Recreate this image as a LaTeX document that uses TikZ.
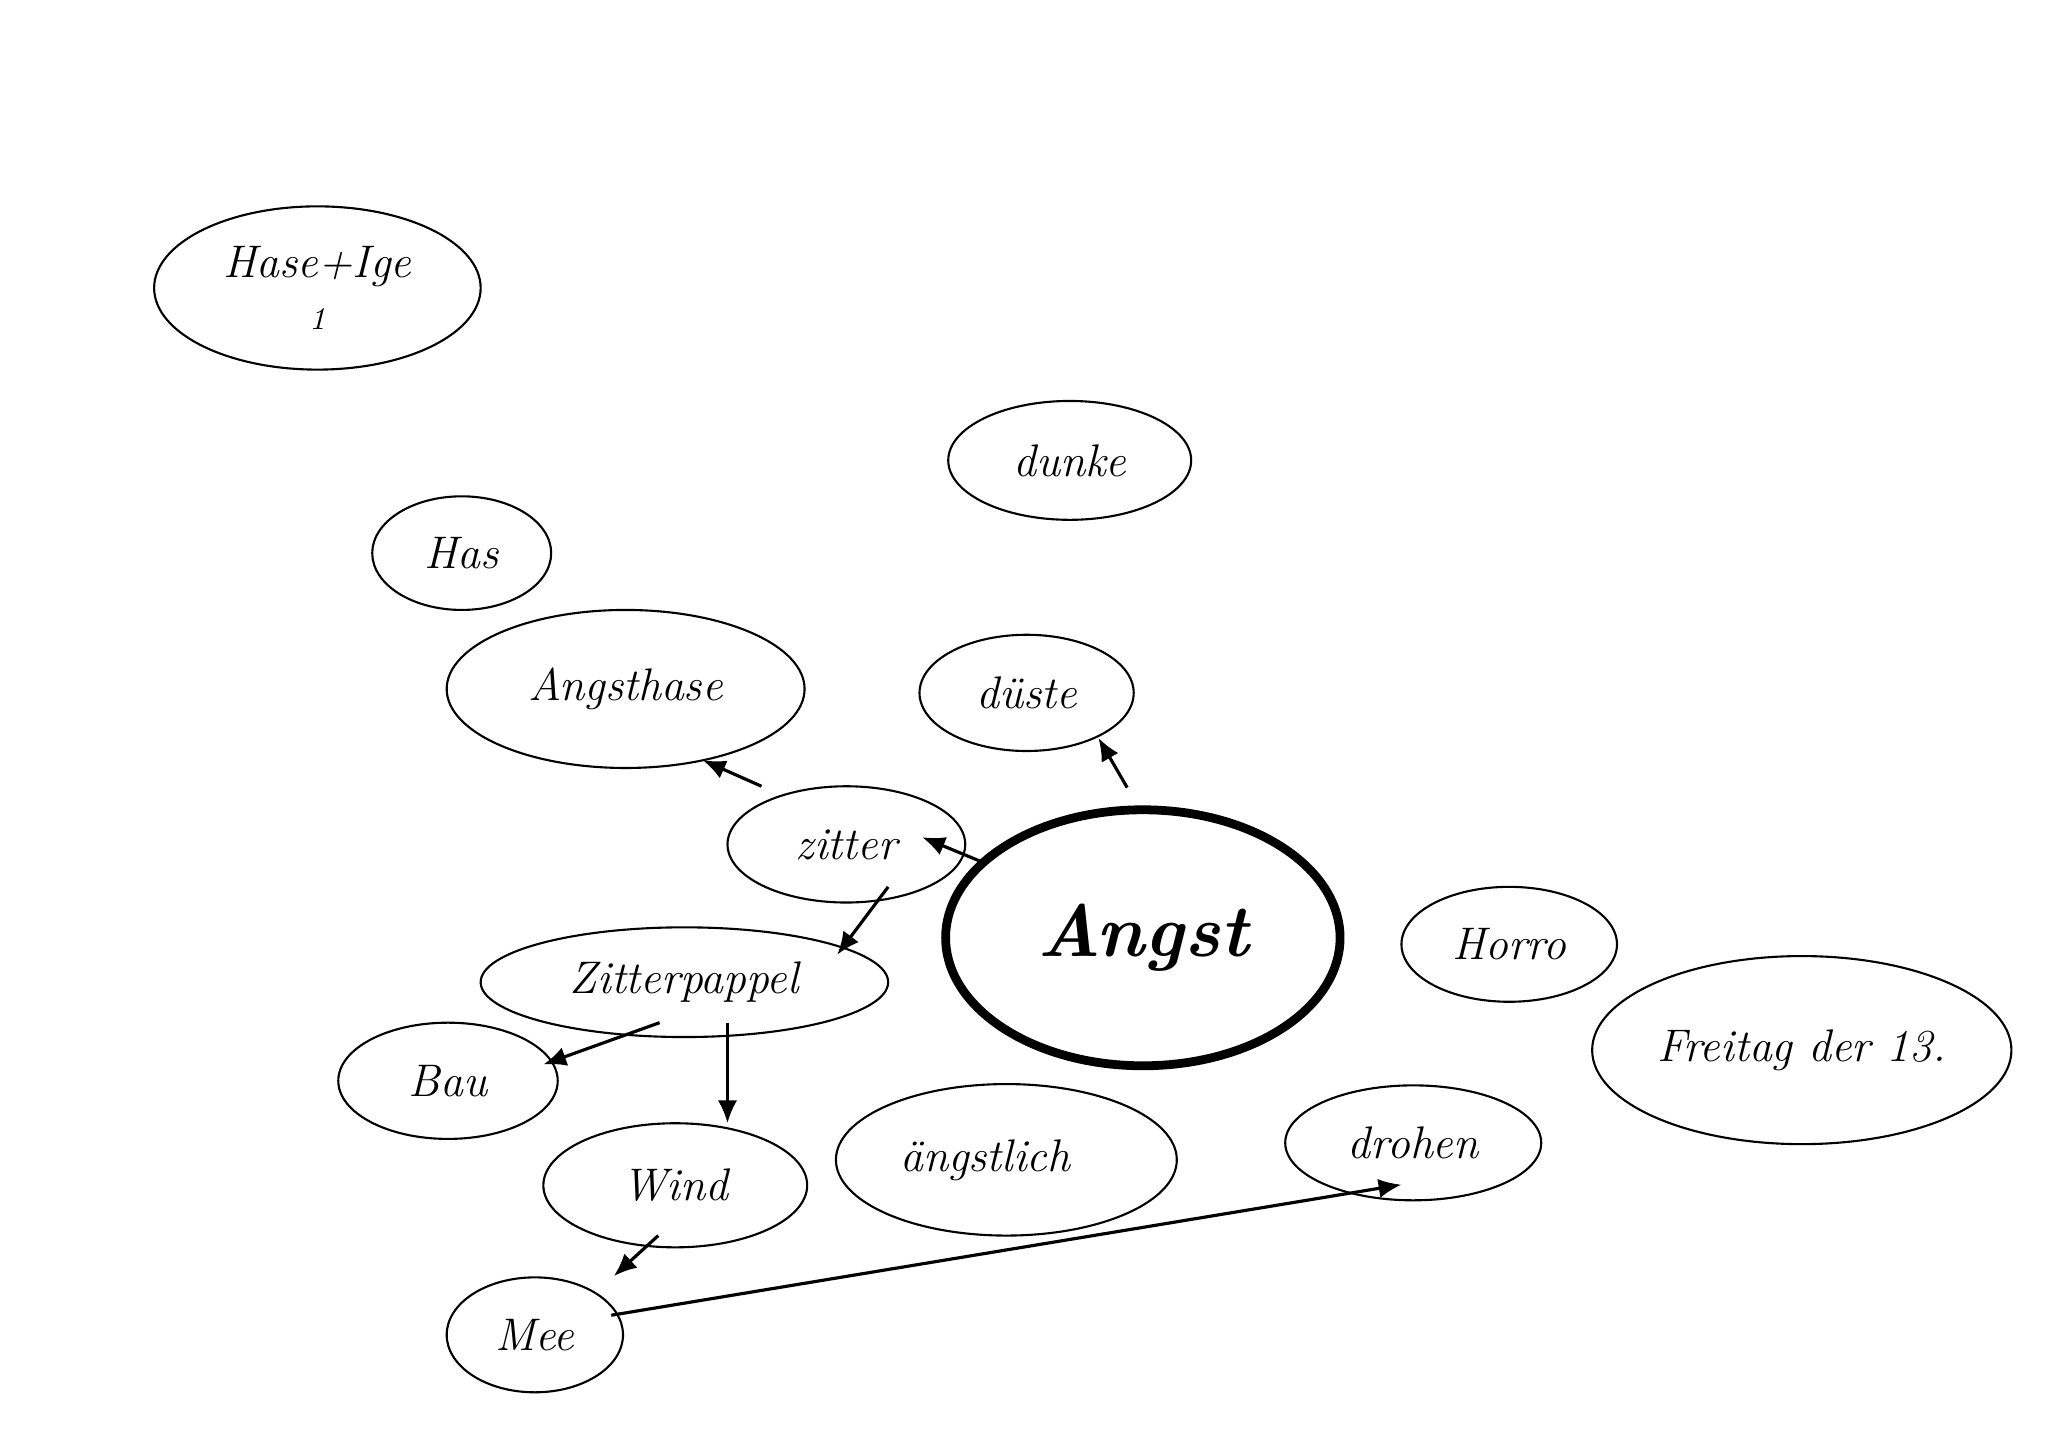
\documentclass[tikz,border=0pt]{standalone}
\usetikzlibrary{shapes.geometric,arrows.meta,calc}
\begin{document}
\begin{tikzpicture}[x=0.013061cm,y=-0.013061cm,
  bub/.style 2 args={draw,ellipse,line width=0.6pt,inner sep=0pt,
    minimum width={#1*0.013061cm},minimum height={#2*0.013061cm},
    font=\fontsize{13}{16}\selectfont\itshape,align=center},
  arr/.style={line width=0.9pt,-{Latex[length=6.5pt,width=5.5pt]}}]
\useasboundingbox[fill=white] (0,0) rectangle (1568,1105);
% nodes
\node[bub={250}{125}] (hase) at (243,220.5) {Hase+Ige\\[-1pt]{\small 1}};
\node[bub={186}{91}] (dunke) at (819,352.5) {dunke};
\node[bub={137}{87}] (has) at (353.5,423.5) {Has};
\node[bub={274}{121}] (angsthase) at (479,527.5) {Angsthase};
\node[bub={164}{89}] (duste) at (786,530.5) {düste};
\node[bub={182}{89}] (zitter) at (648,646.5) {zitter};
\node[bub={302}{196},line width=2.5pt,font=\fontsize{21}{24}\selectfont\bfseries\itshape] (angst) at (875,718) {Angst};
\node[bub={165}{88}] (horro) at (1155.5,723) {Horro};
\node[bub={321}{144}] (freitag) at (1379.5,804) {Freitag der 13.};
\node[bub={312}{84}] (pappel) at (524,752) {Zitterpappel};
\node[bub={168}{89}] (bau) at (343,827.5) {Bau};
\node[bub={202}{95}] (wind) at (517,907.5) {Wind};
\node[bub={261}{116}] (angstlich) at (770.5,888) {\hspace*{-12pt}ängstlich};
\node[bub={196}{88}] (drohen) at (1082,875) {drohen};
\node[bub={135}{88}] (mee) at (409.5,1022) {Mee};
% connectors
\draw[arr] ($(zitter)+(-65,-44.5)$) -- ($(angsthase)+(59,54.5)$);
\draw[arr] ($(angst)+(-12,-115)$) -- ($(duste)+(55,34.5)$);
\draw[arr] ($(angst)+(-123,-58)$) -- ($(zitter)+(58,-5.5)$);
\draw[arr] ($(zitter)+(32,32.5)$) -- ($(pappel)+(117,-21)$);
\draw[arr] ($(pappel)+(-19,31)$) -- ($(bau)+(73,-12.5)$);
\draw[arr] ($(pappel)+(33,31)$) -- ($(wind)+(40,-47.5)$);
\draw[arr] ($(wind)+(-13,38.5)$) -- ($(mee)+(60.5,-45)$);
\draw[arr] ($(mee)+(58.5,-15)$) -- ($(drohen)+(-9,32)$);
\end{tikzpicture}
\end{document}
